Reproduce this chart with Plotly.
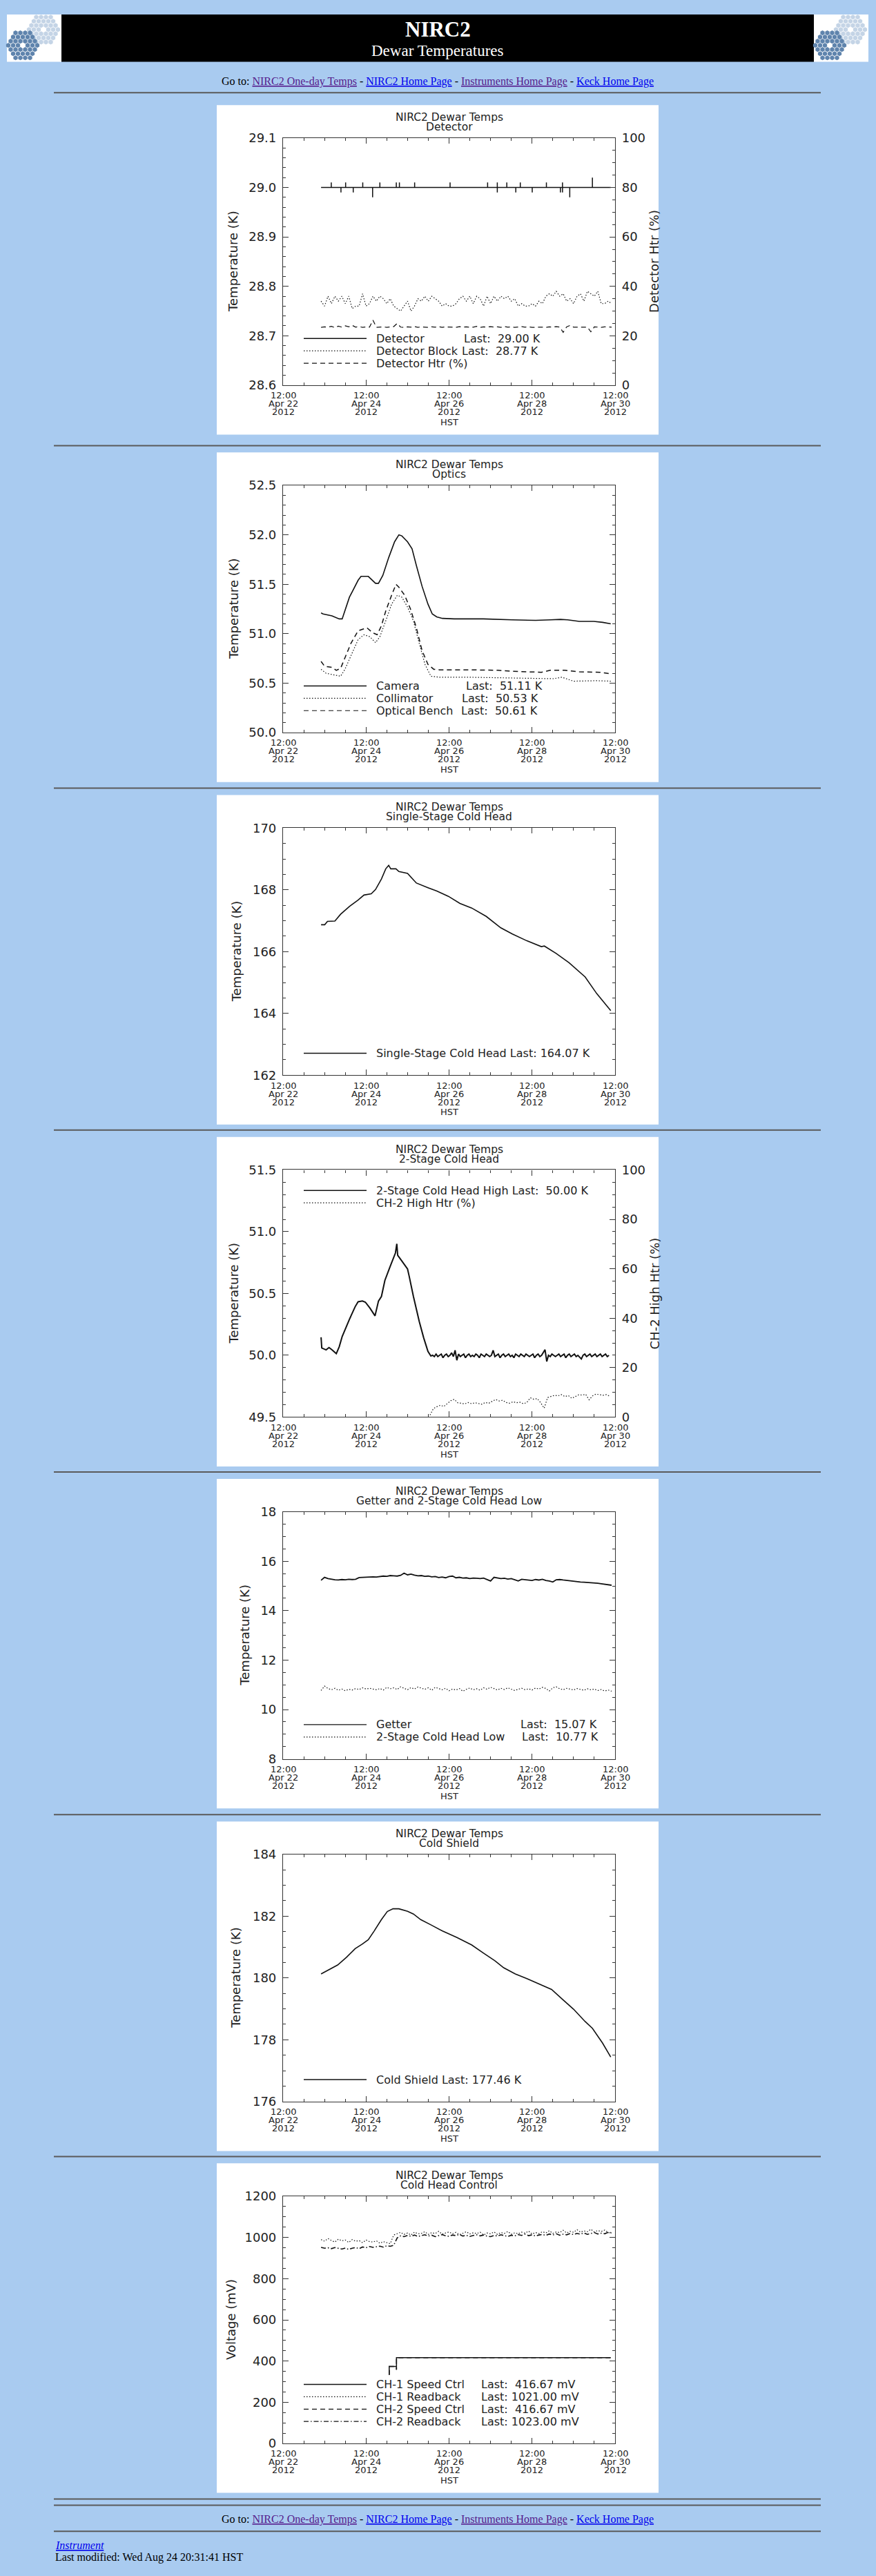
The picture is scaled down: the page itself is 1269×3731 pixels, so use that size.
import datetime as dt
import plotly.graph_objects as go

W, H = 1269, 3731
BG = '#a9cbf0'
INK = '#222222'
AX = '#333333'
LINE = '#111111'
PLOT_FONT = 'DejaVu Sans'
PAGE_FONT = 'Liberation Serif'
T0 = dt.datetime(2012, 4, 22, 12, 0)   # left edge of every time axis (HST)

# ---------------- data (hours after 12:00 Apr 22 2012) ----------------
tick_lines = ['12:00'] * 5
tick_days = ['Apr 22', 'Apr 24', 'Apr 26', 'Apr 28', 'Apr 30']
tick_year = ['2012'] * 5

# Detector
det_base = 29.00
det_start_h, det_end_h = 22.0, 189.5
det_spike_h = [27.9, 33.5, 36.2, 40.6, 46.1, 51.8, 56.0, 65.5, 67.3, 76.1, 96.6, 118.3, 123.9,
               123.9, 129.4, 134.6, 137.2, 144.1, 152.3, 160.4, 161.6, 161.6, 165.8, 178.9, 188.7]
det_spike_v = [29.01, 28.99, 29.01, 28.99, 29.01, 28.98, 29.01, 29.01, 29.01, 29.01, 29.01, 29.01, 29.01,
               28.99, 29.01, 28.99, 29.01, 28.99, 29.01, 28.99, 29.01, 28.99, 28.98, 29.02, 28.999]
# detector block, 2-hourly from hour 22
block_v = [28.77, 28.76, 28.78, 28.765, 28.78, 28.77, 28.78, 28.765, 28.78, 28.755,
           28.76, 28.76, 28.785, 28.76, 28.765, 28.78, 28.77, 28.78, 28.775, 28.765,
           28.775, 28.76, 28.755, 28.75, 28.76, 28.77, 28.75, 28.76, 28.775, 28.77,
           28.78, 28.77, 28.78, 28.775, 28.77, 28.76, 28.765, 28.76, 28.76, 28.765,
           28.775, 28.78, 28.77, 28.78, 28.765, 28.78, 28.775, 28.76, 28.78, 28.765,
           28.78, 28.77, 28.78, 28.775, 28.78, 28.77, 28.775, 28.76, 28.765, 28.76,
           28.76, 28.765, 28.76, 28.77, 28.765, 28.78, 28.785, 28.78, 28.79, 28.78,
           28.785, 28.77, 28.775, 28.765, 28.78, 28.785, 28.77, 28.79, 28.785, 28.78,
           28.79, 28.765, 28.765, 28.77, 28.765]
# detector heater (%), 2-hourly from hour 22
dhtr_v = [23.4, 23.6, 23.5, 23.8, 23.3, 23.9, 23.5, 24.0, 23.6, 24.2,
          23.5, 23.7, 23.4, 23.6, 23.5, 26.3, 23.4, 23.5, 23.6, 23.4,
          23.5, 23.7, 25.0, 23.5, 23.4, 23.6, 23.5, 23.7, 23.4, 23.6,
          23.5, 23.4, 23.6, 23.5, 23.7, 23.4, 23.6, 23.5, 23.6, 23.4,
          23.7, 23.5, 23.6, 23.4, 23.5, 23.8, 23.4, 23.6, 23.5, 23.7,
          23.5, 23.6, 23.4, 23.7, 23.5, 23.6, 23.4, 23.5, 23.7, 23.5,
          23.6, 23.4, 23.5, 23.6, 23.5, 23.4, 23.6, 23.5, 23.7, 23.5,
          21.4, 23.6, 24.2, 23.5, 23.5, 23.6, 23.4, 23.5, 21.6, 23.6,
          23.5, 23.4, 23.6, 23.5, 23.5]

# Optics
cam_h = [22.0, 23.2, 28.3, 32.5, 34.2, 38.4, 43.4, 45.1, 49.3, 53.5, 55.2, 57.7, 61.1, 64.5, 67.0, 68.7,
         72.0, 74.6, 77.1, 80.4, 83.8, 86.3, 88.9, 92.2, 99.0, 115.8, 132.6, 139.4, 146.1, 154.5, 160.4,
         164.6, 171.3, 179.7, 184.8, 189.5]
cam_v = [51.21, 51.20, 51.18, 51.15, 51.15, 51.37, 51.54, 51.58, 51.58, 51.51, 51.51, 51.59, 51.77, 51.93,
         52.00, 51.99, 51.93, 51.86, 51.69, 51.48, 51.30, 51.20, 51.17, 51.155, 51.15, 51.15, 51.14, 51.135,
         51.135, 51.14, 51.145, 51.14, 51.125, 51.125, 51.115, 51.10]
col_h = [22.0, 24.9, 33.3, 35.8, 40.1, 43.4, 46.8, 50.2, 53.5, 56.0, 59.4, 62.8, 66.1, 68.7, 72.0, 75.4,
         78.8, 82.1, 85.5, 90.5, 107.4, 156.2, 161.2, 168.0, 181.4, 189.5]
col_v = [50.64, 50.60, 50.57, 50.64, 50.81, 50.94, 50.99, 50.97, 50.91, 50.97, 51.13, 51.30, 51.39, 51.37,
         51.27, 51.13, 50.90, 50.69, 50.57, 50.56, 50.56, 50.545, 50.56, 50.52, 50.525, 50.52]
bench_h = [22.0, 24.1, 28.3, 30.8, 33.3, 35.8, 39.2, 43.4, 48.5, 51.8, 54.4, 56.9, 59.4, 62.8, 65.3, 67.0,
           70.3, 73.7, 77.1, 80.4, 83.8, 87.2, 90.5, 107.4, 124.2, 132.6, 149.4, 154.5, 162.9, 171.3,
           183.1, 189.5]
bench_v = [50.72, 50.67, 50.66, 50.63, 50.65, 50.76, 50.90, 51.03, 51.06, 51.01, 50.99, 51.08, 51.23,
           51.39, 51.50, 51.47, 51.39, 51.25, 51.06, 50.83, 50.69, 50.64, 50.635, 50.635, 50.63, 50.62,
           50.61, 50.63, 50.63, 50.615, 50.61, 50.595]

# Single-stage cold head
ss_h = [22.0, 24.1, 25.7, 30.0, 33.3, 38.4, 43.4, 46.8, 51.0, 53.5, 56.9, 59.4, 61.1, 62.3, 65.3, 67.0,
        72.0, 77.1, 83.8, 88.9, 95.6, 102.3, 109.1, 117.5, 125.9, 132.6, 141.0, 149.4, 151.1, 157.9,
        165.4, 174.7, 181.4, 189.5]
ss_v = [166.87, 166.87, 166.98, 166.99, 167.21, 167.46, 167.67, 167.83, 167.87, 168.01, 168.35, 168.68,
        168.79, 168.68, 168.68, 168.59, 168.53, 168.22, 168.07, 167.96, 167.79, 167.56, 167.41, 167.14,
        166.77, 166.57, 166.35, 166.16, 166.18, 165.94, 165.64, 165.18, 164.64, 164.09]

# 2-stage cold head high: warm-up part, then hourly samples from hour 86.5
ch2_h = [22.0, 22.4, 24.9, 26.6, 28.3, 30.8, 32.5, 34.2, 38.4, 41.7, 43.4, 45.9, 47.6, 50.2, 53.2, 55.2,
         56.9, 58.9, 61.9, 65.0, 65.8, 66.3, 68.7, 72.0, 72.9, 75.4, 78.8, 81.3, 83.8, 85.5]
ch2_v = [50.146, 50.059, 50.044, 50.063, 50.044, 50.013, 50.069, 50.152, 50.291, 50.393, 50.433, 50.439,
         50.43, 50.383, 50.319, 50.439, 50.476, 50.606, 50.717, 50.828, 50.902, 50.809, 50.763, 50.698,
         50.643, 50.476, 50.272, 50.143, 50.031, 49.994]
ch2_tail_v = [50.00, 49.99, 50.01, 49.99, 50.00, 50.01, 49.98, 50.00, 50.01, 49.99, 50.00, 50.02, 49.99,
              50.04, 49.96, 50.01, 49.99, 50.00, 50.01, 49.98, 50.00, 50.01, 49.99, 50.00, 49.99, 50.01,
              50.00, 49.98, 50.01, 50.00, 49.99, 50.01, 50.00, 49.99, 50.00, 50.04, 49.99, 50.00, 50.01,
              49.98, 50.00, 50.01, 49.99, 50.00, 50.01, 49.99, 50.00, 49.98, 50.01, 50.00, 49.99, 50.01,
              50.00, 49.99, 50.01, 50.00, 49.99, 50.00, 50.01, 49.98, 50.00, 50.01, 49.99, 50.00, 50.02,
              50.045, 49.95, 50.00, 49.99, 50.01, 50.00, 49.99, 50.00, 50.01, 49.99, 50.00, 50.01, 49.98,
              50.00, 50.01, 49.99, 50.00, 50.01, 49.99, 50.00, 49.985, 49.97, 50.00, 50.01, 49.99, 50.00,
              50.01, 49.99, 50.00, 50.01, 49.99, 50.00, 50.01, 49.99, 50.00, 50.01, 49.99, 50.00]
# CH-2 high heater (%), 2-hourly from hour 85
ch2htr_v = [0.8, 3.5, 4.2, 4.8, 4.3, 5.5, 6.6, 7.2, 5.8, 5.6, 5.3, 5.9, 5.4, 5.8, 5.5, 5.2, 5.9, 5.6,
            6.4, 7.1, 6.5, 6.8, 5.9, 5.6, 6.2, 5.8, 6.0, 5.4, 5.9, 7.8, 7.2, 7.5, 5.8, 3.6, 7.9, 8.4,
            8.8, 8.6, 9.1, 8.3, 8.7, 7.6, 8.2, 9.0, 8.9, 9.2, 7.0, 8.6, 9.3, 9.0, 8.8, 9.1, 8.4]

# Getter and 2-stage low, 2-hourly from hour 22
getter_v = [15.23, 15.35, 15.30, 15.27, 15.25, 15.24, 15.26, 15.25, 15.27, 15.26, 15.27, 15.34, 15.35,
            15.34, 15.36, 15.37, 15.36, 15.38, 15.40, 15.39, 15.42, 15.41, 15.40, 15.43, 15.52, 15.45,
            15.48, 15.44, 15.41, 15.42, 15.39, 15.40, 15.37, 15.38, 15.34, 15.36, 15.33, 15.38, 15.40,
            15.33, 15.35, 15.32, 15.33, 15.30, 15.32, 15.31, 15.30, 15.32, 15.25, 15.20, 15.35, 15.32,
            15.30, 15.31, 15.28, 15.30, 15.26, 15.20, 15.27, 15.25, 15.23, 15.22, 15.26, 15.24, 15.27,
            15.22, 15.20, 15.16, 15.25, 15.26, 15.24, 15.22, 15.20, 15.19, 15.18, 15.16, 15.15, 15.14,
            15.15, 15.13, 15.11, 15.09, 15.07, 15.05, 15.03]
ch2low_v = [10.77, 10.95, 10.85, 10.80, 10.86, 10.78, 10.83, 10.76, 10.82, 10.79, 10.85, 10.81, 10.88,
            10.83, 10.86, 10.82, 10.80, 10.85, 10.79, 10.90, 10.84, 10.88, 10.81, 10.92, 10.85, 10.80,
            10.89, 10.83, 10.91, 10.86, 10.82, 10.88, 10.78, 10.90, 10.84, 10.80, 10.86, 10.76, 10.83,
            10.79, 10.85, 10.74, 10.82, 10.87, 10.80, 10.84, 10.78, 10.88, 10.82, 10.90, 10.85, 10.79,
            10.86, 10.81, 10.88, 10.83, 10.77, 10.82, 10.86, 10.80, 10.84, 10.79, 10.87, 10.83, 10.90,
            10.85, 10.75, 10.88, 10.92, 10.84, 10.80, 10.86, 10.82, 10.79, 10.85, 10.81, 10.78, 10.84,
            10.80, 10.83, 10.77, 10.81, 10.75, 10.79, 10.74]

# Cold shield
cs_h = [22.0, 26.6, 31.6, 36.7, 41.7, 45.9, 49.3, 52.7, 56.9, 60.3, 63.6, 67.0, 72.0, 75.4, 79.6, 85.5,
        92.2, 100.6, 109.1, 115.8, 122.5, 127.6, 134.3, 141.0, 149.4, 155.3, 161.2, 168.0, 174.7, 178.9,
        184.8, 189.5]
cs_v = [180.13, 180.27, 180.42, 180.67, 180.95, 181.10, 181.24, 181.52, 181.89, 182.15, 182.24, 182.24,
        182.16, 182.07, 181.89, 181.72, 181.52, 181.31, 181.07, 180.81, 180.56, 180.33, 180.13, 179.98,
        179.78, 179.63, 179.33, 178.99, 178.59, 178.37, 177.89, 177.44]

# Cold head control (mV)
spd_h = [61.4, 61.4, 65.6, 65.6, 65.6, 189.5]
spd1_v = [333, 374, 374, 358, 416.67, 416.67]
spd2_v = [333, 374, 374, 358, 416.67, 416.67]
rb1_v = [990, 982, 995, 985, 978, 992, 984, 988, 976, 990, 982, 985, 975, 988, 980, 978, 984, 972, 980,
         975, 970, 1012, 1018, 1025, 1015, 1022, 1012, 1026, 1018, 1020, 1028, 1015, 1024, 1019, 1030,
         1016, 1022, 1027, 1018, 1025, 1014, 1021, 1028, 1017, 1023, 1019, 1026, 1012, 1022, 1018, 1027,
         1015, 1024, 1020, 1029, 1016, 1023, 1018, 1026, 1021, 1031, 1017, 1024, 1019, 1028, 1022, 1033,
         1020, 1027, 1024, 1035, 1022, 1030, 1025, 1038, 1026, 1032, 1028, 1040, 1027, 1034, 1029, 1036,
         1024, 1021]
rb2_v = [952, 948, 950, 946, 951, 947, 944, 949, 942, 948, 951, 946, 954, 950, 956, 952, 955, 958, 953,
         960, 957, 962, 998, 1008, 1004, 1010, 1006, 1012, 1005, 1009, 1013, 1007, 1011, 1004, 1010, 1014,
         1008, 1006, 1012, 1009, 1015, 1007, 1011, 1005, 1010, 1013, 1008, 1012, 1006, 1004, 1010, 1007,
         1013, 1009, 1005, 1011, 1008, 1014, 1010, 1016, 1009, 1013, 1007, 1012, 1015, 1010, 1017, 1012,
         1018, 1011, 1016, 1013, 1019, 1014, 1020, 1016, 1022, 1015, 1019, 1024, 1017, 1021, 1018, 1025,
         1023]


def when(hours):
    return [T0 + dt.timedelta(hours=h) for h in hours]


def sampled(start, step, values):
    return when([start + step * i for i in range(len(values))])


det_h, det_v = [det_start_h], [det_base]
for h, v in zip(det_spike_h, det_spike_v):
    det_h += [h, h, h]
    det_v += [det_base, v, det_base]
det_h.append(det_end_h)
det_v.append(det_base)

ch2_t = when(ch2_h) + sampled(86.5, 1.0, ch2_tail_v)
ch2_all = ch2_v + ch2_tail_v

SOLID, DOT, DASH, DASHDOT = 'solid', '1.5px,2.5px', '7px,5px', '7px,3px,1.5px,3px'

# trace tuples: x, y, dash, on right axis, line width
panels = [
    dict(box=142, sub='Detector', yr=[28.6, 29.1], major=0.1, minor=0.02, fmt='.1f',
         ytitle='Temperature (K)', ytx=338,
         y2=dict(title='Detector Htr (%)', tx=948),
         traces=[(when(det_h), det_v, SOLID, False, 1.5),
                 (sampled(22, 2, block_v), block_v, DOT, False, 1.2),
                 (sampled(22, 2, dhtr_v), dhtr_v, DASH, True, 1.2)],
         legend=[('Detector', 'Last:\u00a0\u00a029.00 K', 670, SOLID),
                 ('Detector Block', 'Last:\u00a0\u00a028.77 K', 667, DOT),
                 ('Detector Htr (%)', None, None, DASH)]),
    dict(box=648, sub='Optics', yr=[50.0, 52.5], major=0.5, minor=0.1, fmt='.1f',
         ytitle='Temperature (K)', ytx=338,
         traces=[(when(cam_h), cam_v, SOLID, False, 1.6),
                 (when(col_h), col_v, DOT, False, 1.2),
                 (when(bench_h), bench_v, DASH, False, 1.5)],
         legend=[('Camera', 'Last:\u00a0\u00a051.11 K', 673, SOLID),
                 ('Collimator', 'Last:\u00a0\u00a050.53 K', 667, DOT),
                 ('Optical Bench', 'Last:\u00a0\u00a050.61 K', 666, DASH)]),
    dict(box=1147, sub='Single-Stage Cold Head', yr=[162, 170], major=2, minor=0.5, fmt='d',
         ytitle='Temperature (K)', ytx=342,
         traces=[(when(ss_h), ss_v, SOLID, False, 1.6)],
         legend=[('Single-Stage Cold Head Last: 164.07 K', None, None, SOLID)]),
    dict(box=1645, sub='2-Stage Cold Head', yr=[49.5, 51.5], major=0.5, minor=0.1, fmt='.1f',
         ytitle='Temperature (K)', ytx=338,
         y2=dict(title='CH-2 High Htr (%)', tx=948),
         traces=[(ch2_t, ch2_all, SOLID, False, 2.0),
                 (sampled(85, 2, ch2htr_v), ch2htr_v, DOT, True, 1.2)],
         legend=[('2-Stage Cold Head High Last:\u00a0\u00a050.00 K', None, None, SOLID),
                 ('CH-2 High Htr (%)', None, None, DOT)],
         legend_top=78),
    dict(box=2143, sub='Getter and 2-Stage Cold Head Low', yr=[8, 18], major=2, minor=0.5, fmt='d',
         ytitle='Temperature (K)', ytx=355,
         traces=[(sampled(22, 2, getter_v), getter_v, SOLID, False, 1.8),
                 (sampled(22, 2, ch2low_v), ch2low_v, DOT, False, 1.2)],
         legend=[('Getter', 'Last:\u00a0\u00a015.07 K', 752, SOLID),
                 ('2-Stage Cold Head Low', 'Last:\u00a0\u00a010.77 K', 754, DOT)]),
    dict(box=2642, sub='Cold Shield', yr=[176, 184], major=2, minor=0.5, fmt='d',
         ytitle='Temperature (K)', ytx=342,
         traces=[(when(cs_h), cs_v, SOLID, False, 1.6)],
         legend=[('Cold Shield Last: 177.46 K', None, None, SOLID)]),
    dict(box=3140, sub='Cold Head Control', yr=[0, 1200], major=200, minor=50, fmt='d',
         ytitle='Voltage (mV)', ytx=334,
         traces=[(when(spd_h), spd1_v, SOLID, False, 1.5),
                 (sampled(22, 2, rb1_v), rb1_v, DOT, False, 1.2),
                 (when(spd_h), spd2_v, DASH, False, 1.5),
                 (sampled(22, 2, rb2_v), rb2_v, DASHDOT, False, 1.6)],
         legend=[('CH-1 Speed Ctrl', 'Last:\u00a0\u00a0416.67 mV', 695, SOLID),
                 ('CH-1 Readback', 'Last: 1021.00 mV', 695, DOT),
                 ('CH-2 Speed Ctrl', 'Last:\u00a0\u00a0416.67 mV', 695, DASH),
                 ('CH-2 Readback', 'Last: 1023.00 mV', 695, DASHDOT)]),
]


def px(x):
    return x / W


def py(y):
    return 1 - y / H


def ref(prefix, k):
    return prefix if k == 1 else f'{prefix}{k}'


annotations = []


def note(text, x, y, size, family=PLOT_FONT, color=INK, xref='paper', xanchor='center', **kw):
    # explicit anchors: paper annotations otherwise auto-anchor by position
    annotations.append(dict(text=text, x=x, y=y, xref=xref, yref='paper', xanchor=xanchor,
                            yanchor='middle', showarrow=False,
                            font=dict(family=family, size=size, color=color), **kw))


fig = go.Figure()
shapes, layout = [], {}

# ---- page furniture ----
LOGO_DARK, LOGO_LIGHT = '#5f84ad', '#c4d4e6'


def hex_cluster(cx, cy, radius, step):
    pts = []
    n = int(radius / step) + 2
    for r in range(-n, n + 1):
        y = cy + r * step * 0.866
        off = (r % 2) * step / 2
        for c in range(-n - 1, n + 2):
            x = cx + c * step + off
            dx, dy = abs(x - cx), abs(y - cy)
            if dy <= radius * 0.866 and 0.866 * dx + 0.5 * dy <= radius * 0.866 and (dx + dy) > 1:
                pts.append((x, y))
    return pts


lx, ly, lc = [], [], []
for ox in (0, 1169):
    shapes.append(dict(type='rect', xref='paper', yref='paper', x0=px(10 + ox), x1=px(89 + ox),
                       y0=py(79), y1=py(10), fillcolor='white', line=dict(width=0), layer='below'))
    for cx, cy, col in ((63, 32, LOGO_LIGHT), (33, 55, LOGO_DARK)):
        for x, y in hex_cluster(cx + ox, cy, 23, 7.0):
            lx.append(x)
            ly.append(y)
            lc.append(col)
fig.add_trace(go.Scatter(x=lx, y=ly, mode='markers', xaxis='x8', yaxis='y10', hoverinfo='skip',
                         marker=dict(symbol='hexagon', size=7.2, color=lc, line=dict(width=0))))
layout['xaxis8'] = dict(domain=[0, 1], range=[0, W], visible=False, anchor='y10', fixedrange=True)
layout['yaxis10'] = dict(domain=[0, 1], range=[H, 0], visible=False, anchor='x8', fixedrange=True)

shapes.append(dict(type='rect', xref='paper', yref='paper', x0=px(89), x1=px(1179), y0=py(79), y1=py(10),
                   fillcolor='black', line=dict(width=0), layer='below'))
note('<b>NIRC2</b>', px(634), py(32), 31, family=PAGE_FONT, color='white')
note('Dewar Temperatures', px(634), py(63), 23, family=PAGE_FONT, color='white')

goto = ("Go to: <span style='color:#551a8b'><u>NIRC2 One-day Temps</u></span> - "
        "<span style='color:#0000ee'><u>NIRC2 Home Page</u></span> - "
        "<span style='color:#551a8b'><u>Instruments Home Page</u></span> - "
        "<span style='color:#0000ee'><u>Keck Home Page</u></span>")
for gy in (108, 3659):
    note(goto, px(634), py(gy), 16, family=PAGE_FONT, color='black')
note("<i><u>Instrument</u></i>", px(78), py(3696), 16, family=PAGE_FONT, color='#0000ee', xanchor='left')
note('Last modified: Wed Aug 24 20:31:41 HST', px(78), py(3714), 16, family=PAGE_FONT, color='black',
     xanchor='left')

for hy in [124] + [p['box'] - 10 for p in panels[1:]] + [3629, 3638, 3676]:
    shapes.append(dict(type='line', xref='paper', yref='paper', x0=px(78), x1=px(1189), y0=py(hy), y1=py(hy),
                       line=dict(color='#5a5a5a', width=2)))

# ---- plots ----
X0, X1 = 410, 891
xrange_ = [T0, T0 + dt.timedelta(days=8)]
major_dates = [T0 + dt.timedelta(days=2 * i) for i in range(5)]
right_axes = iter(['y8', 'y9'])

for k, p in enumerate(panels, start=1):
    box = p['box']
    top, bot = box + 48, box + 408
    xr, yr = ref('x', k), ref('y', k)
    shapes.append(dict(type='rect', xref='paper', yref='paper', x0=px(314), x1=px(954), y0=py(box + 480),
                       y1=py(box), fillcolor='white', line=dict(width=0), layer='below'))

    layout[ref('xaxis', k)] = dict(
        domain=[px(X0), px(X1)], anchor=yr, type='date', range=xrange_,
        tickmode='linear', tick0=T0, dtick=2 * 86400000, showticklabels=False,
        ticks='inside', ticklen=8, tickwidth=1.2, tickcolor=AX,
        showline=True, linecolor=AX, linewidth=1.2, mirror='ticks', showgrid=False, zeroline=False,
        minor=dict(ticks='inside', ticklen=4, tickwidth=1, tickcolor=AX, tick0=T0, dtick=43200000,
                   showgrid=False))
    has_y2 = 'y2' in p
    layout[ref('yaxis', k)] = dict(
        domain=[py(bot), py(top)], anchor=xr, range=p['yr'], tickmode='linear', tick0=p['yr'][0],
        dtick=p['major'], tickformat=p['fmt'], ticks='inside', ticklen=8, tickwidth=1.2, tickcolor=AX,
        showline=True, linecolor=AX, linewidth=1.2, mirror=False if has_y2 else 'ticks',
        showgrid=False, zeroline=False, ticklabelstandoff=5,
        tickfont=dict(family=PLOT_FONT, size=18, color=INK),
        minor=dict(ticks='inside', ticklen=4, tickwidth=1, tickcolor=AX, tick0=p['yr'][0],
                   dtick=p['minor'], showgrid=False))
    y2ref = None
    if has_y2:
        y2ref = next(right_axes)
        layout['yaxis' + y2ref[1:]] = dict(
            overlaying=yr, anchor=xr, side='right', range=[0, 100], tickmode='linear', tick0=0, dtick=20,
            ticks='inside', ticklen=8, tickwidth=1.2, tickcolor=AX, showline=True, linecolor=AX,
            linewidth=1.2, showgrid=False, zeroline=False, ticklabelstandoff=5,
            tickfont=dict(family=PLOT_FONT, size=18, color=INK),
            minor=dict(ticks='inside', ticklen=4, tickwidth=1, tickcolor=AX, tick0=0, dtick=5,
                       showgrid=False))
        note(p['y2']['title'], px(p['y2']['tx']), py((top + bot) / 2), 18, textangle=-90)

    for xs, ys, dash, right, lw in p['traces']:
        fig.add_trace(go.Scatter(x=xs, y=ys, mode='lines', xaxis=xr, yaxis=y2ref if right else yr,
                                 hoverinfo='skip', line=dict(color=LINE, width=lw, dash=dash)))

    # titles
    cx = (X0 + X1) / 2
    note('NIRC2 Dewar Temps', px(cx), py(box + 18), 15.5)
    note(p['sub'], px(cx), py(box + 32), 15.5)
    note(p['ytitle'], px(p['ytx']), py((top + bot) / 2), 18, textangle=-90)
    # time labels
    for d, l1, l2, l3 in zip(major_dates, tick_lines, tick_days, tick_year):
        for text, dy in ((l1, 15), (l2, 27), (l3, 39)):
            note(text, d, py(bot + dy), 13, xref=xr)
    note('HST', px(cx), py(bot + 54), 13)

    # legend
    rows = p['legend']
    n = len(rows)
    for i, (label, last, lx_, dash) in enumerate(rows):
        if 'legend_top' in p:
            ry = box + p['legend_top'] + 18 * i
        else:
            ry = box + 376 - 18 * (n - 1 - i)
        shapes.append(dict(type='line', xref='paper', yref='paper', x0=px(440), x1=px(531), y0=py(ry),
                           y1=py(ry), line=dict(color=LINE, width=1.4 if dash == SOLID else 1.2, dash=dash)))
        note(label, px(543), py(ry), 16, xanchor='left')
        if last:
            note(last, px(lx_), py(ry), 16, xanchor='left')

fig.update_layout(width=W, height=H, margin=dict(l=0, r=0, t=0, b=0), paper_bgcolor=BG,
                  plot_bgcolor='rgba(0,0,0,0)', showlegend=False, hovermode=False,
                  font=dict(family=PLOT_FONT, color=INK), shapes=shapes, annotations=annotations, **layout)

fig.write_html("out.html", config={'displayModeBar': False},
               post_script="document.body.style.margin='0';document.body.style.background='%s';" % BG)
